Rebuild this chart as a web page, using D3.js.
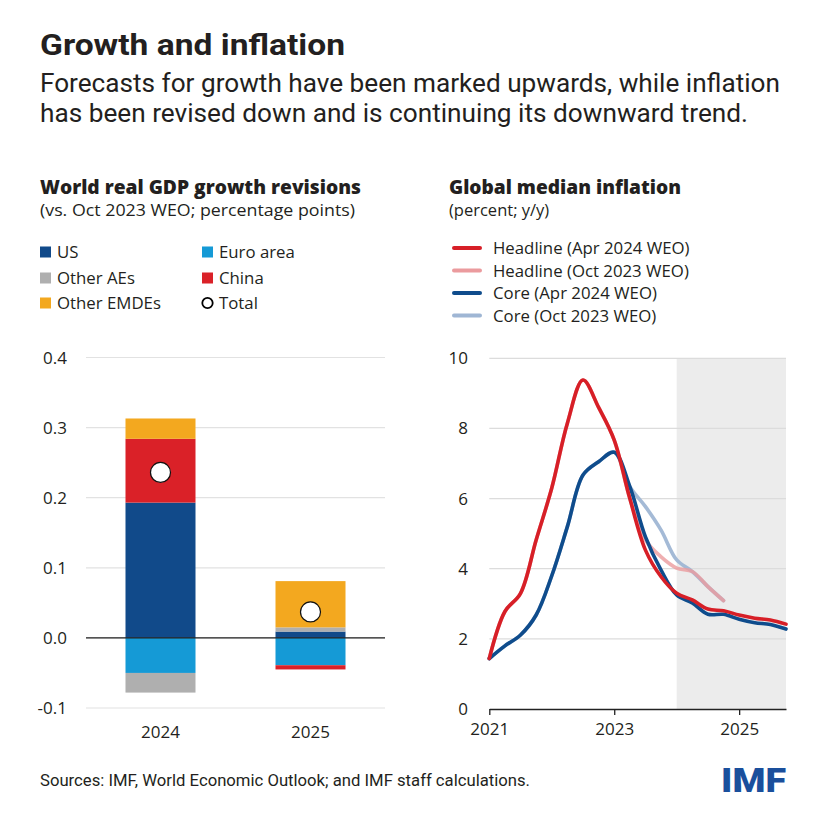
<!DOCTYPE html>
<html><head><meta charset="utf-8">
<script src="https://cdn.jsdelivr.net/npm/d3@7"></script>
<style>
html,body{margin:0;padding:0;background:#fff;}
text{font-family:"Open Sans","Noto Sans",sans-serif;fill:#231f20;}
</style></head>
<body>
<svg id="c" width="818" height="818"></svg>
<script>
// ---------- Data: bar chart ----------
const barYears = ["2024", "2025"];
const usVals = [0.193, 0.009];
const euroVals = [-0.050, -0.039];
const otherAEVals = [-0.028, 0.006];
const chinaVals = [0.091, -0.006];
const emdeVals = [0.029, 0.066];
const totalVals = [0.236, 0.037];
const barSeriesNames = ["US", "Euro area", "Other AEs", "China", "Other EMDEs"];
const barColors = ["#114a8a", "#159ad6", "#afafaf", "#da2128", "#f3a81f"];
const barTicks = [-0.1, 0.0, 0.1, 0.2, 0.3, 0.4];

// ---------- Data: line chart ----------
const lineDates = [2021, 2021.25, 2021.5, 2021.75, 2022, 2022.25, 2022.5, 2022.75,
  2023, 2023.25, 2023.5, 2023.75, 2024, 2024.25, 2024.5, 2024.75, 2025, 2025.25, 2025.5, 2025.75];
const headlineApr24 = [1.44, 2.78, 3.3, 4.82, 6.3, 8.15, 9.38, 8.6, 7.67, 6.0, 4.53, 3.77,
  3.3, 3.11, 2.85, 2.8, 2.68, 2.59, 2.54, 2.42];
const coreApr24 = [1.44, 1.8, 2.11, 2.68, 3.8, 5.2, 6.67, 7.05, 7.32, 6.34, 4.91, 3.96,
  3.25, 3.02, 2.7, 2.7, 2.56, 2.46, 2.41, 2.28];
const headlineOct23 = [1.44, 2.78, 3.3, 4.82, 6.3, 8.15, 9.38, 8.6, 7.67, 6.0, 4.82, 4.34,
  4.02, 3.92, 3.49, 3.09];
const coreOct23 = [1.44, 1.8, 2.11, 2.68, 3.8, 5.2, 6.67, 7.05, 7.32, 6.34, 5.77, 5.1,
  4.25, 3.92, 3.49, 3.09];
const lineNames = ["Headline (Apr 2024 WEO)", "Headline (Oct 2023 WEO)", "Core (Apr 2024 WEO)", "Core (Oct 2023 WEO)"];
const lineColors = ["#d71f27", "#eb9b9e", "#0f4c8c", "#9fb6d4"];
const lineYTicks = [0, 2, 4, 6, 8, 10];
const lineXTicks = [2021, 2023, 2025];
const forecastStart = 2024;

const svg = d3.select("#c");
svg.append("rect").attr("width", 818).attr("height", 818).attr("fill", "#fff");

// ---------- Titles ----------
svg.append("text").attr("x", 40).attr("y", 55)
  .style("font-family", "Roboto").style("font-weight", 700).style("font-size", "29px")
  .attr("textLength", 305).attr("lengthAdjust", "spacingAndGlyphs")
  .text("Growth and inflation");
svg.append("text").attr("x", 40).attr("y", 92)
  .style("font-family", "Roboto").style("font-size", "25px")
  .attr("textLength", 740).attr("lengthAdjust", "spacingAndGlyphs")
  .text("Forecasts for growth have been marked upwards, while inflation");
svg.append("text").attr("x", 40).attr("y", 122)
  .style("font-family", "Roboto").style("font-size", "25px")
  .attr("textLength", 708).attr("lengthAdjust", "spacingAndGlyphs")
  .text("has been revised down and is continuing its downward trend.");

// panel titles
svg.append("text").attr("x", 40).attr("y", 194)
  .style("font-weight", 800).style("font-size", "19px")
  .attr("textLength", 321).attr("lengthAdjust", "spacingAndGlyphs")
  .text("World real GDP growth revisions");
svg.append("text").attr("x", 40).attr("y", 216)
  .style("font-size", "16.5px")
  .attr("textLength", 315).attr("lengthAdjust", "spacingAndGlyphs")
  .text("(vs. Oct 2023 WEO; percentage points)");
svg.append("text").attr("x", 449).attr("y", 194)
  .style("font-weight", 800).style("font-size", "19px")
  .attr("textLength", 232).attr("lengthAdjust", "spacingAndGlyphs")
  .text("Global median inflation");
svg.append("text").attr("x", 449).attr("y", 216)
  .style("font-size", "16.5px")
  .text("(percent; y/y)");

// ---------- Bar legend ----------
const barLegend = [
  {i: 0, x: 40, y: 252}, {i: 1, x: 202, y: 252},
  {i: 2, x: 40, y: 278}, {i: 3, x: 202, y: 278},
  {i: 4, x: 40, y: 303}
];
barLegend.forEach(d => {
  svg.append("rect").attr("x", d.x).attr("y", d.y - 5.5).attr("width", 11).attr("height", 11)
    .attr("fill", barColors[d.i]);
  svg.append("text").attr("x", d.x + 17).attr("y", d.y + 6).style("font-size", "16.8px")
    .text(barSeriesNames[d.i]);
});
svg.append("circle").attr("cx", 207.5).attr("cy", 303).attr("r", 5.2)
  .attr("fill", "#fff").attr("stroke", "#000").attr("stroke-width", 1.8);
svg.append("text").attr("x", 219).attr("y", 309).style("font-size", "16.8px").text("Total");

// ---------- Bar chart ----------
const by = d3.scaleLinear().domain([-0.1, 0.4]).range([708, 357.5]);
const bx = d3.scaleBand().domain(barYears).range([86, 385]).paddingInner(0.5333).paddingOuter(0.2633);

const bg = svg.append("g");
bg.selectAll("line.grid").data(barTicks).join("line")
  .attr("x1", 86).attr("x2", 385)
  .attr("y1", d => by(d)).attr("y2", d => by(d))
  .attr("stroke", "#e2e2e2").attr("stroke-width", 1.2);
bg.selectAll("text.yt").data(barTicks).join("text")
  .attr("x", 67).attr("y", d => by(d) + 6).attr("text-anchor", "end")
  .style("font-size", "17px")
  .text(d => d3.format(".1f")(d).replace("\u2212", "-"));

const barTable = barYears.map((y, i) => ({
  year: y, "US": usVals[i], "Euro area": euroVals[i], "Other AEs": otherAEVals[i],
  "China": chinaVals[i], "Other EMDEs": emdeVals[i]
}));
const stack = d3.stack().keys(barSeriesNames).offset(d3.stackOffsetDiverging);
const stacked = stack(barTable);
stacked.forEach((s, si) => {
  bg.append("g").selectAll("rect").data(s).join("rect")
    .attr("x", d => bx(d.data.year))
    .attr("width", bx.bandwidth())
    .attr("y", d => by(Math.max(d[0], d[1])))
    .attr("height", d => Math.abs(by(d[0]) - by(d[1])))
    .attr("fill", barColors[si]);
});
bg.append("line").attr("x1", 86).attr("x2", 385).attr("y1", by(0)).attr("y2", by(0))
  .attr("stroke", "#222").attr("stroke-width", 1.3);
bg.selectAll("circle.tot").data(barYears).join("circle")
  .attr("cx", d => bx(d) + bx.bandwidth() / 2)
  .attr("cy", (d, i) => by(totalVals[i]))
  .attr("r", 10).attr("fill", "#fff").attr("stroke", "#111").attr("stroke-width", 1.2);
bg.selectAll("text.xt").data(barYears).join("text")
  .attr("x", d => bx(d) + bx.bandwidth() / 2).attr("y", 738)
  .attr("text-anchor", "middle").style("font-size", "17px").text(d => d);

// ---------- Line legend ----------
lineNames.forEach((n, i) => {
  const y = 248 + i * 22.5;
  svg.append("line").attr("x1", 454).attr("x2", 480).attr("y1", y).attr("y2", y)
    .attr("stroke", lineColors[i]).attr("stroke-width", 4).attr("stroke-linecap", "round");
  svg.append("text").attr("x", 493).attr("y", y + 6).style("font-size", "16.8px").text(n);
});

// ---------- Line chart ----------
const lx = d3.scaleLinear().domain([2021, 2025.75]).range([489.3, 786]);
const ly = d3.scaleLinear().domain([0, 10]).range([709, 358.3]);
const lg = svg.append("g");
lg.append("rect").attr("x", lx(forecastStart)).attr("y", ly(10))
  .attr("width", lx(2025.75) - lx(forecastStart)).attr("height", ly(0) - ly(10))
  .attr("fill", "#ececec");
lg.selectAll("line.grid").data(lineYTicks.filter(d => d > 0)).join("line")
  .attr("x1", lx(2021)).attr("x2", lx(2025.75))
  .attr("y1", d => ly(d)).attr("y2", d => ly(d))
  .attr("stroke", "#dcdcdc").attr("stroke-width", 1.2);
lg.selectAll("text.yt").data(lineYTicks).join("text")
  .attr("x", 468).attr("y", d => ly(d) + 6).attr("text-anchor", "end")
  .style("font-size", "17px").text(d => d);

const xAxis = d3.axisBottom(lx).tickValues(lineXTicks).tickFormat(d3.format("d"))
  .tickSize(6).tickSizeOuter(0);
const xa = lg.append("g").attr("transform", `translate(0,${ly(0)})`).call(xAxis);
xa.select(".domain").attr("stroke", "#222").attr("stroke-width", 1.3);
xa.selectAll(".tick line").attr("stroke", "#222").attr("stroke-width", 1.3);
xa.selectAll(".tick text").attr("y", 14).style("font-size", "17px")
  .style("font-family", "Open Sans").attr("fill", "#231f20");

const lineGen = d3.line().x(d => lx(d[0])).y(d => ly(d[1])).curve(d3.curveCatmullRom.alpha(0.5));
const seriesAll = [
  {v: coreOct23, c: lineColors[3], o: 0.95},
  {v: headlineOct23, c: lineColors[1], o: 0.8},
  {v: coreApr24, c: lineColors[2], o: 1},
  {v: headlineApr24, c: lineColors[0], o: 1}
];
seriesAll.forEach(s => {
  const pts = s.v.map((v, i) => [lineDates[i], v]);
  lg.append("path").attr("d", lineGen(pts)).attr("fill", "none")
    .attr("stroke", s.c).attr("stroke-width", 3.6).attr("stroke-opacity", s.o)
    .attr("stroke-linejoin", "round").attr("stroke-linecap", "round");
});

// ---------- Footer ----------
svg.append("text").attr("x", 40).attr("y", 786)
  .style("font-family", "Roboto").style("font-size", "16px")
  .attr("textLength", 490).attr("lengthAdjust", "spacingAndGlyphs")
  .attr("fill", "#333")
  .text("Sources: IMF, World Economic Outlook; and IMF staff calculations.");
svg.append("text").attr("x", 721).attr("y", 792)
  .style("font-family", "Roboto").style("font-weight", 900).style("font-size", "33px")
  .attr("textLength", 65).attr("lengthAdjust", "spacingAndGlyphs")
  .style("fill", "#1a4f9c")
  .text("IMF");
</script>
</body></html>
